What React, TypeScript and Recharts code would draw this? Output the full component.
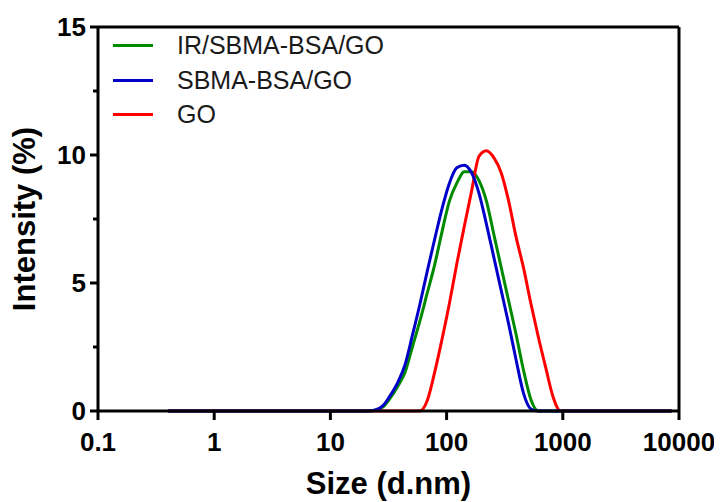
import { LineChart, Line, XAxis, YAxis, ReferenceLine } from "recharts";

// hydrodynamic size bins (d.nm)
const sizes = [
  0.4, 18.17, 21.04, 24.36, 28.21, 32.67, 37.84, 43.82, 50.75, 58.77, 68.06, 78.82, 91.28, 105.7, 122.4,
  141.8, 164.2, 190.1, 220.2, 255.0, 295.3, 342.0, 396.1, 458.7, 531.2, 615.1, 712.4, 825.0, 955.4, 1106, 8635,
];

const irSbmaBsaGo = [
  0, 0, 0, 0.03, 0.15, 0.5, 0.95, 1.5, 2.5, 3.5, 4.6, 5.7, 7.0, 8.2, 8.9,
  9.35, 9.35, 9.0, 8.2, 6.9, 5.6, 4.3, 3.0, 1.6, 0.45, 0, 0, 0, 0, 0, 0,
];

const sbmaBsaGo = [
  0, 0, 0, 0.04, 0.2, 0.6, 1.1, 1.8, 2.95, 4.15, 5.45, 6.7, 7.9, 8.9, 9.5,
  9.6, 9.3, 8.5, 7.3, 6.0, 4.7, 3.4, 2.0, 0.7, 0.08, 0, 0, 0, 0, 0, 0,
];

const go = [
  0, 0, 0, 0, 0, 0, 0, 0, 0, 0, 0.4, 1.5, 2.8, 4.2, 5.75,
  7.2, 8.6, 9.95, 10.17, 9.9, 9.3, 8.2, 6.8, 5.6, 4.2, 2.9, 1.7, 0.55, 0, 0, 0,
];

const xTicks = [0.1, 1, 10, 100, 1000, 10000];
const yTicks = [0, 2.5, 5, 7.5, 10, 12.5, 15];

const series = [
  { key: "ir", name: "IR/SBMA-BSA/GO", color: "#008a00" },
  { key: "sbma", name: "SBMA-BSA/GO", color: "#0000c8" },
  { key: "go", name: "GO", color: "#ff0000" },
];

const data = sizes.map((s, i) => ({
  size: s,
  ir: irSbmaBsaGo[i],
  sbma: sbmaBsaGo[i],
  go: go[i],
}));

const FONT = "'Liberation Sans', Arial, sans-serif";
const AXIS_X = 90;

const YTick = (props: any) => {
  const { y, payload } = props;
  const major = payload.value % 5 === 0;
  return (
    <g>
      <line x1={AXIS_X} x2={AXIS_X - (major ? 8 : 5)} y1={y} y2={y} stroke="#000" strokeWidth={3} />
      {major && (
        <text
          x={AXIS_X - 12}
          y={y}
          dy="0.36em"
          textAnchor="end"
          fontFamily={FONT}
          fontWeight="bold"
          fontSize={26}
          fill="#000"
        >
          {payload.value}
        </text>
      )}
    </g>
  );
};

function ChartLegend() {
  // same order as the original legend
  return (
    <div style={{ position: "absolute", left: 105, top: 20, fontFamily: FONT }}>
      {series.map((s) => (
        <div key={s.key} style={{ display: "flex", alignItems: "center", height: 34.7 }}>
          <div style={{ width: 40, height: 3, background: s.color }} />
          <span style={{ marginLeft: 24, fontSize: 25, color: "#1a1a1a", lineHeight: "25px" }}>{s.name}</span>
        </div>
      ))}
    </div>
  );
}

export default function App() {
  return (
    <div style={{ position: "relative", width: 714, height: 494 }}>
      <LineChart width={714} height={494} data={data} margin={{ top: 19, right: 43, bottom: 0, left: 0 }}>
        <XAxis
          dataKey="size"
          type="number"
          scale="log"
          domain={[0.1, 10000]}
          ticks={xTicks}
          allowDataOverflow
          height={91}
          tickFormatter={(v: number) => String(v)}
          axisLine={{ stroke: "#000", strokeWidth: 3 }}
          tickLine={{ stroke: "#000", strokeWidth: 3 }}
          tickSize={9}
          tickMargin={13}
          tick={{ fontSize: 26, fontWeight: "bold", fill: "#000", fontFamily: FONT }}
          label={{
            value: "Size (d.nm)",
            position: "insideBottom",
            offset: 8,
            style: { fontSize: 31, fontWeight: "bold", fill: "#000", fontFamily: FONT },
          }}
        />
        <YAxis
          type="number"
          domain={[0, 15]}
          ticks={yTicks}
          interval={0}
          width={AXIS_X}
          axisLine={{ stroke: "#000", strokeWidth: 3 }}
          tickLine={false}
          tick={<YTick />}
          label={{
            value: "Intensity (%)",
            angle: -90,
            position: "insideLeft",
            offset: 16,
            style: { fontSize: 31, fontWeight: "bold", fill: "#000", fontFamily: FONT, textAnchor: "middle" },
          }}
        />
        <ReferenceLine y={15} stroke="#000" strokeWidth={3} />
        <ReferenceLine x={10000} stroke="#000" strokeWidth={3} />
        <Line
          type="monotone"
          dataKey="ir"
          name="IR/SBMA-BSA/GO"
          stroke="#008a00"
          strokeWidth={3}
          dot={false}
          isAnimationActive={false}
        />
        <Line
          type="monotone"
          dataKey="go"
          name="GO"
          stroke="#ff0000"
          strokeWidth={3}
          dot={false}
          isAnimationActive={false}
        />
        <Line
          type="monotone"
          dataKey="sbma"
          name="SBMA-BSA/GO"
          stroke="#0000c8"
          strokeWidth={3}
          dot={false}
          isAnimationActive={false}
        />
      </LineChart>
      <ChartLegend />
    </div>
  );
}
